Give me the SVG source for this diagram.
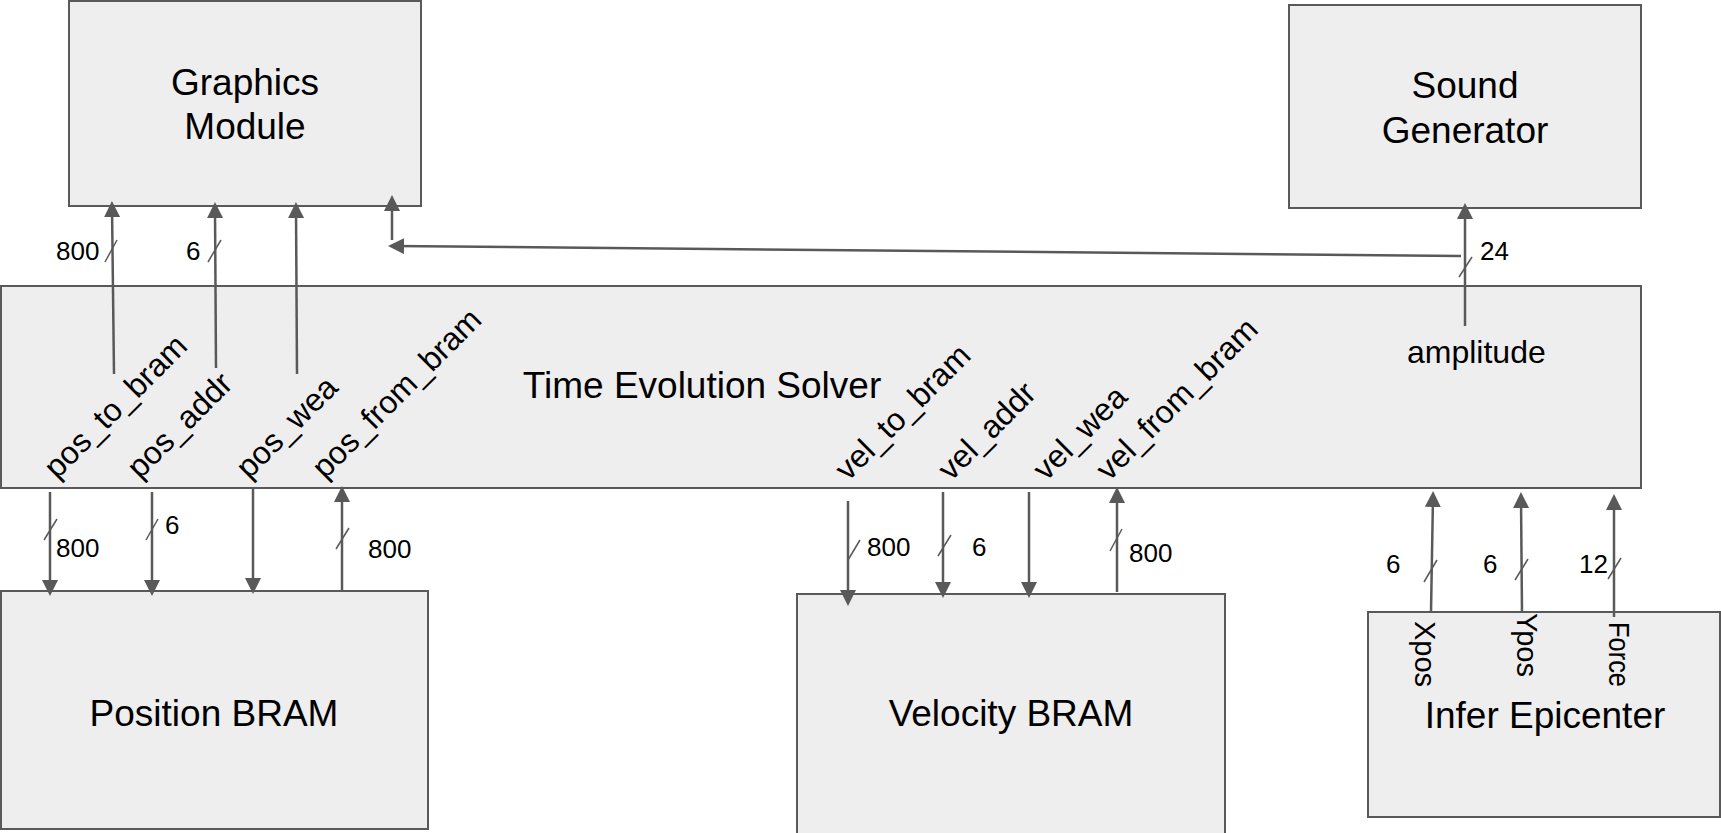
<svg xmlns="http://www.w3.org/2000/svg" width="1721" height="833" viewBox="0 0 1721 833">
  <style>
    .box { fill: #eeeeee; stroke: #595959; stroke-width: 2; }
    .title { font-family: "Liberation Sans", Arial, sans-serif; font-size: 37px; fill: #000; text-anchor: middle; }
    .sig { font-family: "Liberation Sans", Arial, sans-serif; font-size: 32px; fill: #000; }
    .vsig { font-family: "Liberation Sans", Arial, sans-serif; font-size: 29px; fill: #000; }
    .width { font-family: "Liberation Sans", Arial, sans-serif; font-size: 26px; fill: #000; }
    .wire { stroke: #595959; stroke-width: 2.5; fill: none; marker-end: url(#head); }
    .bus { stroke: #595959; stroke-width: 1.5; fill: none; }
  </style>
  <defs>
    <marker id="head" markerUnits="userSpaceOnUse" markerWidth="17" markerHeight="17" refX="10" refY="8" orient="auto">
      <path d="M0,0 L16,8 L0,16 z" fill="#595959"/>
    </marker>
  </defs>

  <g id="graphics-module">
    <rect class="box" x="69" y="1" width="352" height="205"/>
    <text class="title" x="245" y="95">Graphics</text>
    <text class="title" x="245" y="139">Module</text>
  </g>

  <g id="sound-generator">
    <rect class="box" x="1289" y="5" width="352" height="203"/>
    <text class="title" x="1465" y="98">Sound</text>
    <text class="title" x="1465" y="143">Generator</text>
  </g>

  <g id="time-evolution-solver">
    <rect class="box" x="1" y="286" width="1640" height="202"/>
    <text class="title" x="702" y="398">Time Evolution Solver</text>
    <text class="sig" transform="translate(57,480) rotate(-45)">pos_to_bram</text>
    <text class="sig" transform="translate(140,480) rotate(-45)">pos_addr</text>
    <text class="sig" transform="translate(249,480) rotate(-45)">pos_wea</text>
    <text class="sig" transform="translate(325,480) rotate(-45)">pos_from_bram</text>
    <text class="sig" transform="translate(848,482) rotate(-45)">vel_to_bram</text>
    <text class="sig" transform="translate(951,482) rotate(-45)">vel_addr</text>
    <text class="sig" transform="translate(1046,482) rotate(-45)">vel_wea</text>
    <text class="sig" transform="translate(1109,482) rotate(-45)">vel_from_bram</text>
    <text class="sig" x="1407" y="363">amplitude</text>
  </g>

  <g id="position-bram">
    <rect class="box" x="1" y="591" width="427" height="238"/>
    <text class="title" x="214" y="726">Position BRAM</text>
  </g>

  <g id="velocity-bram">
    <rect class="box" x="797" y="594" width="428" height="260"/>
    <text class="title" x="1011" y="726">Velocity BRAM</text>
  </g>

  <g id="infer-epicenter">
    <rect class="box" x="1368" y="612" width="352" height="205"/>
    <text class="title" x="1545" y="728">Infer Epicenter</text>
    <text class="vsig" transform="translate(1415,621) rotate(90)">Xpos</text>
    <text class="vsig" transform="translate(1517,613) rotate(90)">Ypos</text>
    <text class="vsig" transform="translate(1609,622) rotate(90)" textLength="65" lengthAdjust="spacingAndGlyphs">Force</text>
  </g>

  <g id="connectors">
    <!-- solver to graphics module -->
    <line class="wire" x1="114" y1="374" x2="112" y2="207"/>
    <line class="wire" x1="216" y1="368" x2="215" y2="208"/>
    <line class="wire" x1="297" y1="374" x2="296" y2="208"/>
    <line class="wire" x1="392" y1="240" x2="392" y2="201"/>
    <line class="wire" x1="1461" y1="256" x2="394" y2="246"/>
    <!-- amplitude to sound generator -->
    <line class="wire" x1="1465" y1="326" x2="1465" y2="209"/>
    <!-- solver to/from position BRAM -->
    <line class="wire" x1="50" y1="492" x2="50" y2="590"/>
    <line class="wire" x1="152" y1="492" x2="152" y2="590"/>
    <line class="wire" x1="253" y1="489" x2="253" y2="588"/>
    <line class="wire" x1="342" y1="592" x2="342" y2="492"/>
    <!-- solver to/from velocity BRAM -->
    <line class="wire" x1="848" y1="501" x2="848" y2="600"/>
    <line class="wire" x1="943" y1="492" x2="943" y2="592"/>
    <line class="wire" x1="1029" y1="492" x2="1029" y2="592"/>
    <line class="wire" x1="1117" y1="592" x2="1117" y2="493"/>
    <!-- epicenter to solver -->
    <line class="wire" x1="1431" y1="612" x2="1433" y2="497"/>
    <line class="wire" x1="1522" y1="613" x2="1521" y2="498"/>
    <line class="wire" x1="1614" y1="617" x2="1614" y2="500"/>

    <!-- bus width ticks -->
    <line class="bus" x1="105" y1="262" x2="117" y2="240"/>
    <line class="bus" x1="208" y1="262" x2="221" y2="240"/>
    <line class="bus" x1="1459" y1="277" x2="1472" y2="257"/>
    <line class="bus" x1="44" y1="540" x2="57" y2="519"/>
    <line class="bus" x1="146" y1="540" x2="158" y2="519"/>
    <line class="bus" x1="336" y1="549" x2="349" y2="528"/>
    <line class="bus" x1="848" y1="560" x2="860" y2="540"/>
    <line class="bus" x1="938" y1="556" x2="951" y2="535"/>
    <line class="bus" x1="1110" y1="551" x2="1122" y2="529"/>
    <line class="bus" x1="1424" y1="582" x2="1437" y2="560"/>
    <line class="bus" x1="1515" y1="580" x2="1528" y2="559"/>
    <line class="bus" x1="1608" y1="579" x2="1621" y2="558"/>

    <text class="width" x="56" y="260">800</text>
    <text class="width" x="186" y="260">6</text>
    <text class="width" x="1480" y="260">24</text>
    <text class="width" x="56" y="557">800</text>
    <text class="width" x="165" y="534">6</text>
    <text class="width" x="368" y="558">800</text>
    <text class="width" x="867" y="556">800</text>
    <text class="width" x="972" y="556">6</text>
    <text class="width" x="1129" y="562">800</text>
    <text class="width" x="1386" y="573">6</text>
    <text class="width" x="1483" y="573">6</text>
    <text class="width" x="1579" y="573">12</text>
  </g>
</svg>
